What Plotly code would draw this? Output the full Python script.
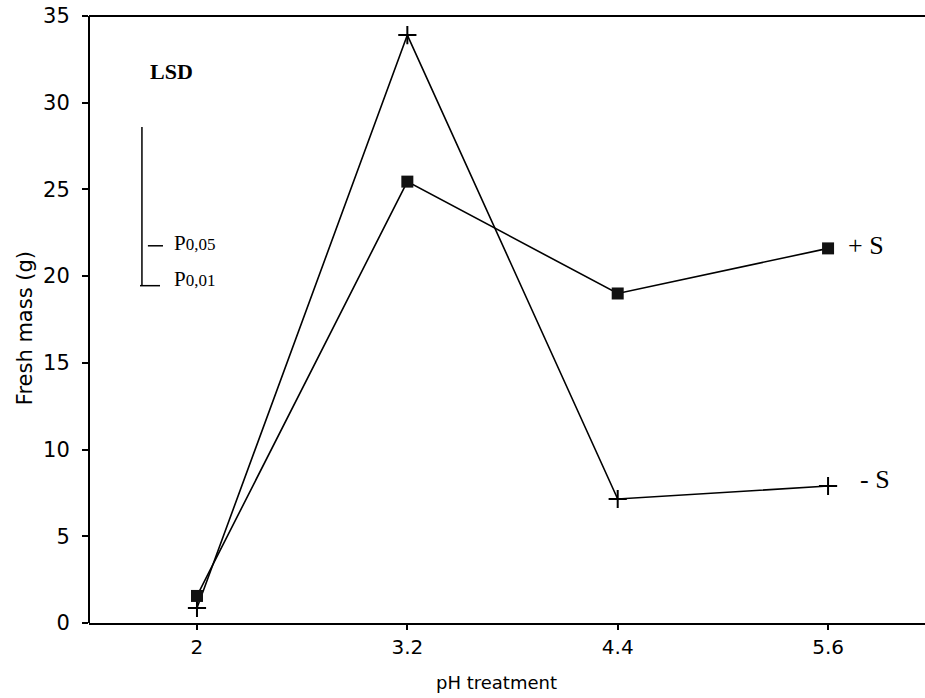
import plotly.graph_objects as go

ph = [2, 3.2, 4.4, 5.6]
plus_s = [1.56, 25.45, 19.0, 21.6]
minus_s = [0.87, 33.9, 7.15, 7.9]
x_ticks = [2, 3.2, 4.4, 5.6]
x_tick_labels = ["2", "3.2", "4.4", "5.6"]
y_ticks = [0, 5, 10, 15, 20, 25, 30, 35]

# LSD bar (x position in pH units, y values in g)
lsd_x = 1.686
lsd_top = 28.6
lsd_p05 = 21.75
lsd_p01 = 19.45

fig = go.Figure()
fig.add_trace(go.Scatter(x=ph, y=minus_s, mode="lines+markers", name="-S",
                         line=dict(color="black", width=1.6),
                         marker=dict(symbol="cross-thin", size=13, line=dict(color="black", width=2))))
fig.add_trace(go.Scatter(x=ph, y=plus_s, mode="lines+markers", name="+S",
                         line=dict(color="black", width=1.6),
                         marker=dict(symbol="square", size=12, color="#111111")))

# frame lines: top and left
fig.add_shape(type="line", xref="paper", yref="paper", x0=0, x1=1, y0=1, y1=1,
              line=dict(color="black", width=2))
fig.add_shape(type="line", xref="paper", yref="paper", x0=0, x1=0, y0=0, y1=1,
              line=dict(color="black", width=2))

# LSD lines
fig.add_shape(type="line", x0=lsd_x, x1=lsd_x, y0=lsd_p01, y1=lsd_top, line=dict(color="black", width=1.5))
fig.add_shape(type="line", x0=1.72, x1=1.806, y0=lsd_p05, y1=lsd_p05, line=dict(color="black", width=1.5))
fig.add_shape(type="line", x0=1.675, x1=1.789, y0=lsd_p01, y1=lsd_p01, line=dict(color="black", width=1.5))

serif = "Liberation Serif, Times New Roman, serif"
fig.add_annotation(x=1.72, y=31.8, text="<b>LSD</b>", showarrow=False, xanchor="left",
                   font=dict(family=serif, size=22, color="black"))
fig.add_annotation(x=1.857, y=lsd_p05 + 0.15, text="P<span style='font-size:17px'>0,05</span>",
                   showarrow=False, xanchor="left", font=dict(family=serif, size=21, color="black"))
fig.add_annotation(x=1.857, y=lsd_p01 + 0.4, text="P<span style='font-size:17px'>0,01</span>",
                   showarrow=False, xanchor="left", font=dict(family=serif, size=21, color="black"))

fig.add_annotation(x=ph[-1], y=plus_s[-1] + 0.15, text="+ S", showarrow=False, xanchor="left", xshift=18,
                   font=dict(family=serif, size=26, color="black"))
fig.add_annotation(x=ph[-1], y=minus_s[-1] + 0.35, text="- S", showarrow=False, xanchor="left", xshift=30,
                   font=dict(family=serif, size=26, color="black"))

sans = "DejaVu Sans, sans-serif"
fig.add_annotation(x=3.71, y=0, yref="paper", yshift=-59, yanchor="middle", text="pH treatment",
                   showarrow=False, font=dict(family=sans, size=18, color="black"))
fig.add_annotation(x=0, xref="paper", xshift=-64, xanchor="center", y=17.0, text="Fresh mass (g)",
                   showarrow=False, textangle=-90, font=dict(family=sans, size=21, color="black"))

fig.update_layout(
    template="none",
    width=925, height=698,
    margin=dict(l=89, r=0, t=16, b=75),
    paper_bgcolor="white", plot_bgcolor="white",
    showlegend=False,
    font=dict(family=sans, color="black"),
)
fig.update_xaxes(range=[1.384, 6.153], tickvals=x_ticks, ticktext=x_tick_labels,
                 showgrid=False, zeroline=False, showline=True, linecolor="black", linewidth=2,
                 mirror=False, ticks="outside", ticklen=5, tickwidth=1.5, tickcolor="black",
                 tickfont=dict(size=20))
fig.update_yaxes(range=[0, 35], tickvals=y_ticks,
                 showgrid=False, zeroline=False, showline=False,
                 mirror=False, ticks="outside", ticklen=6, tickwidth=1.5, tickcolor="black",
                 ticklabelstandoff=8, tickfont=dict(size=21))

fig.write_html("out.html")
